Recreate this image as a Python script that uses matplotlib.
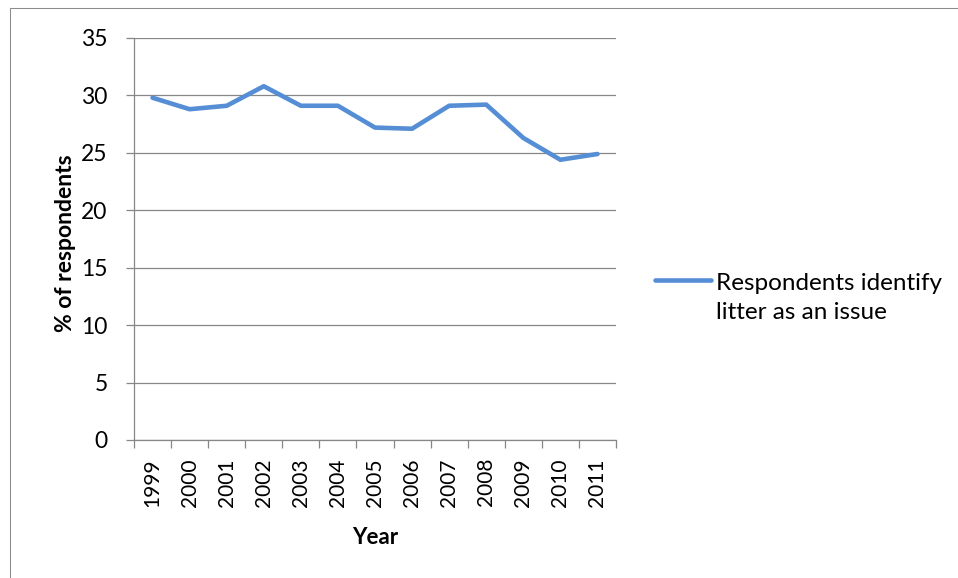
import matplotlib
matplotlib.use("Agg")
import numpy as np
import matplotlib.pyplot as plt
from matplotlib.patches import Rectangle
from matplotlib.legend_handler import HandlerLine2D

# Survey results: share of respondents naming litter as a local issue
years = ["1999", "2000", "2001", "2002", "2003", "2004", "2005",
         "2006", "2007", "2008", "2009", "2010", "2011"]
litter_pct = [29.8, 28.8, 29.1, 30.8, 29.1, 29.1, 27.2,
              27.1, 29.1, 29.2, 26.3, 24.4, 24.9]
series_name = "Respondents identify\nlitter as an issue"
y_ticks = [0, 5, 10, 15, 20, 25, 30, 35]

plt.rcParams['font.family'] = ['Lato', 'DejaVu Sans']

W, H = 958, 578
LEG_FS = 17.5
LEG_SPACING = 1.45


class FirstLineHandler(HandlerLine2D):
    """Put the legend line level with the first line of a wrapped label."""

    def create_artists(self, legend, orig_handle, xdescent, ydescent,
                       width, height, fontsize, trans):
        artists = super().create_artists(legend, orig_handle, xdescent,
                                         ydescent, width, height, fontsize,
                                         trans)
        shift = 0.5 * LEG_SPACING * fontsize
        for a in artists:
            a.set_ydata(np.asarray(a.get_ydata(), dtype=float) + shift)
        return artists


fig = plt.figure(figsize=(W / 100, H / 100), dpi=100)

# chart frame (runs off the right and bottom edges)
fig.add_artist(Rectangle((10 / W, -0.1), 1.0, 1 - 8 / H + 0.1,
                         transform=fig.transFigure, fill=False,
                         edgecolor='#8c8c8c', lw=0.75))

ax = fig.add_axes([134 / W, 1 - 440 / H, (616 - 134) / W, (440 - 38) / H])
xpos = list(range(len(years)))
line, = ax.plot(xpos, litter_pct, color='#558ED5', lw=3.3,
                solid_capstyle='round', solid_joinstyle='round',
                label=series_name)

ax.set_xlim(-0.5, len(years) - 0.5)
ax.set_ylim(0, 35)
ax.set_yticks(y_ticks)
ax.yaxis.grid(True, color='#878787', lw=0.9)
ax.set_axisbelow(True)

for s in ['top', 'right']:
    ax.spines[s].set_visible(False)
for s in ['left', 'bottom']:
    ax.spines[s].set_color('#878787')
    ax.spines[s].set_linewidth(0.9)

# tick marks sit between categories, labels under each category
ax.set_xticks([i - 0.5 for i in range(len(years) + 1)])
ax.set_xticklabels([])
ax.set_xticks(xpos, minor=True)
ax.set_xticklabels(years, minor=True, rotation=90, fontsize=15)
ax.tick_params(axis='x', which='major', length=6, width=0.9,
               color='#878787', direction='out')
ax.tick_params(axis='x', which='minor', length=0, pad=13)
ax.tick_params(axis='y', length=6, width=0.9, color='#878787',
               labelsize=16.5, pad=13)

ax.set_xlabel("Year", fontsize=16, fontweight='bold', labelpad=15)
ax.set_ylabel("% of respondents", fontsize=16.5, fontweight='bold')
ax.yaxis.set_label_coords(-0.12, 0.49)

leg = ax.legend(handles=[line], loc='center left',
                bbox_to_anchor=(655 / W, 1 - 298 / H),
                bbox_transform=fig.transFigure,
                frameon=False, fontsize=LEG_FS, handlelength=2.3,
                handletextpad=0.2, borderpad=0, borderaxespad=0,
                handler_map={line: FirstLineHandler()})
for t in leg.get_texts():
    t.set_linespacing(LEG_SPACING)

fig.savefig("out.png", dpi=100, facecolor='white')
